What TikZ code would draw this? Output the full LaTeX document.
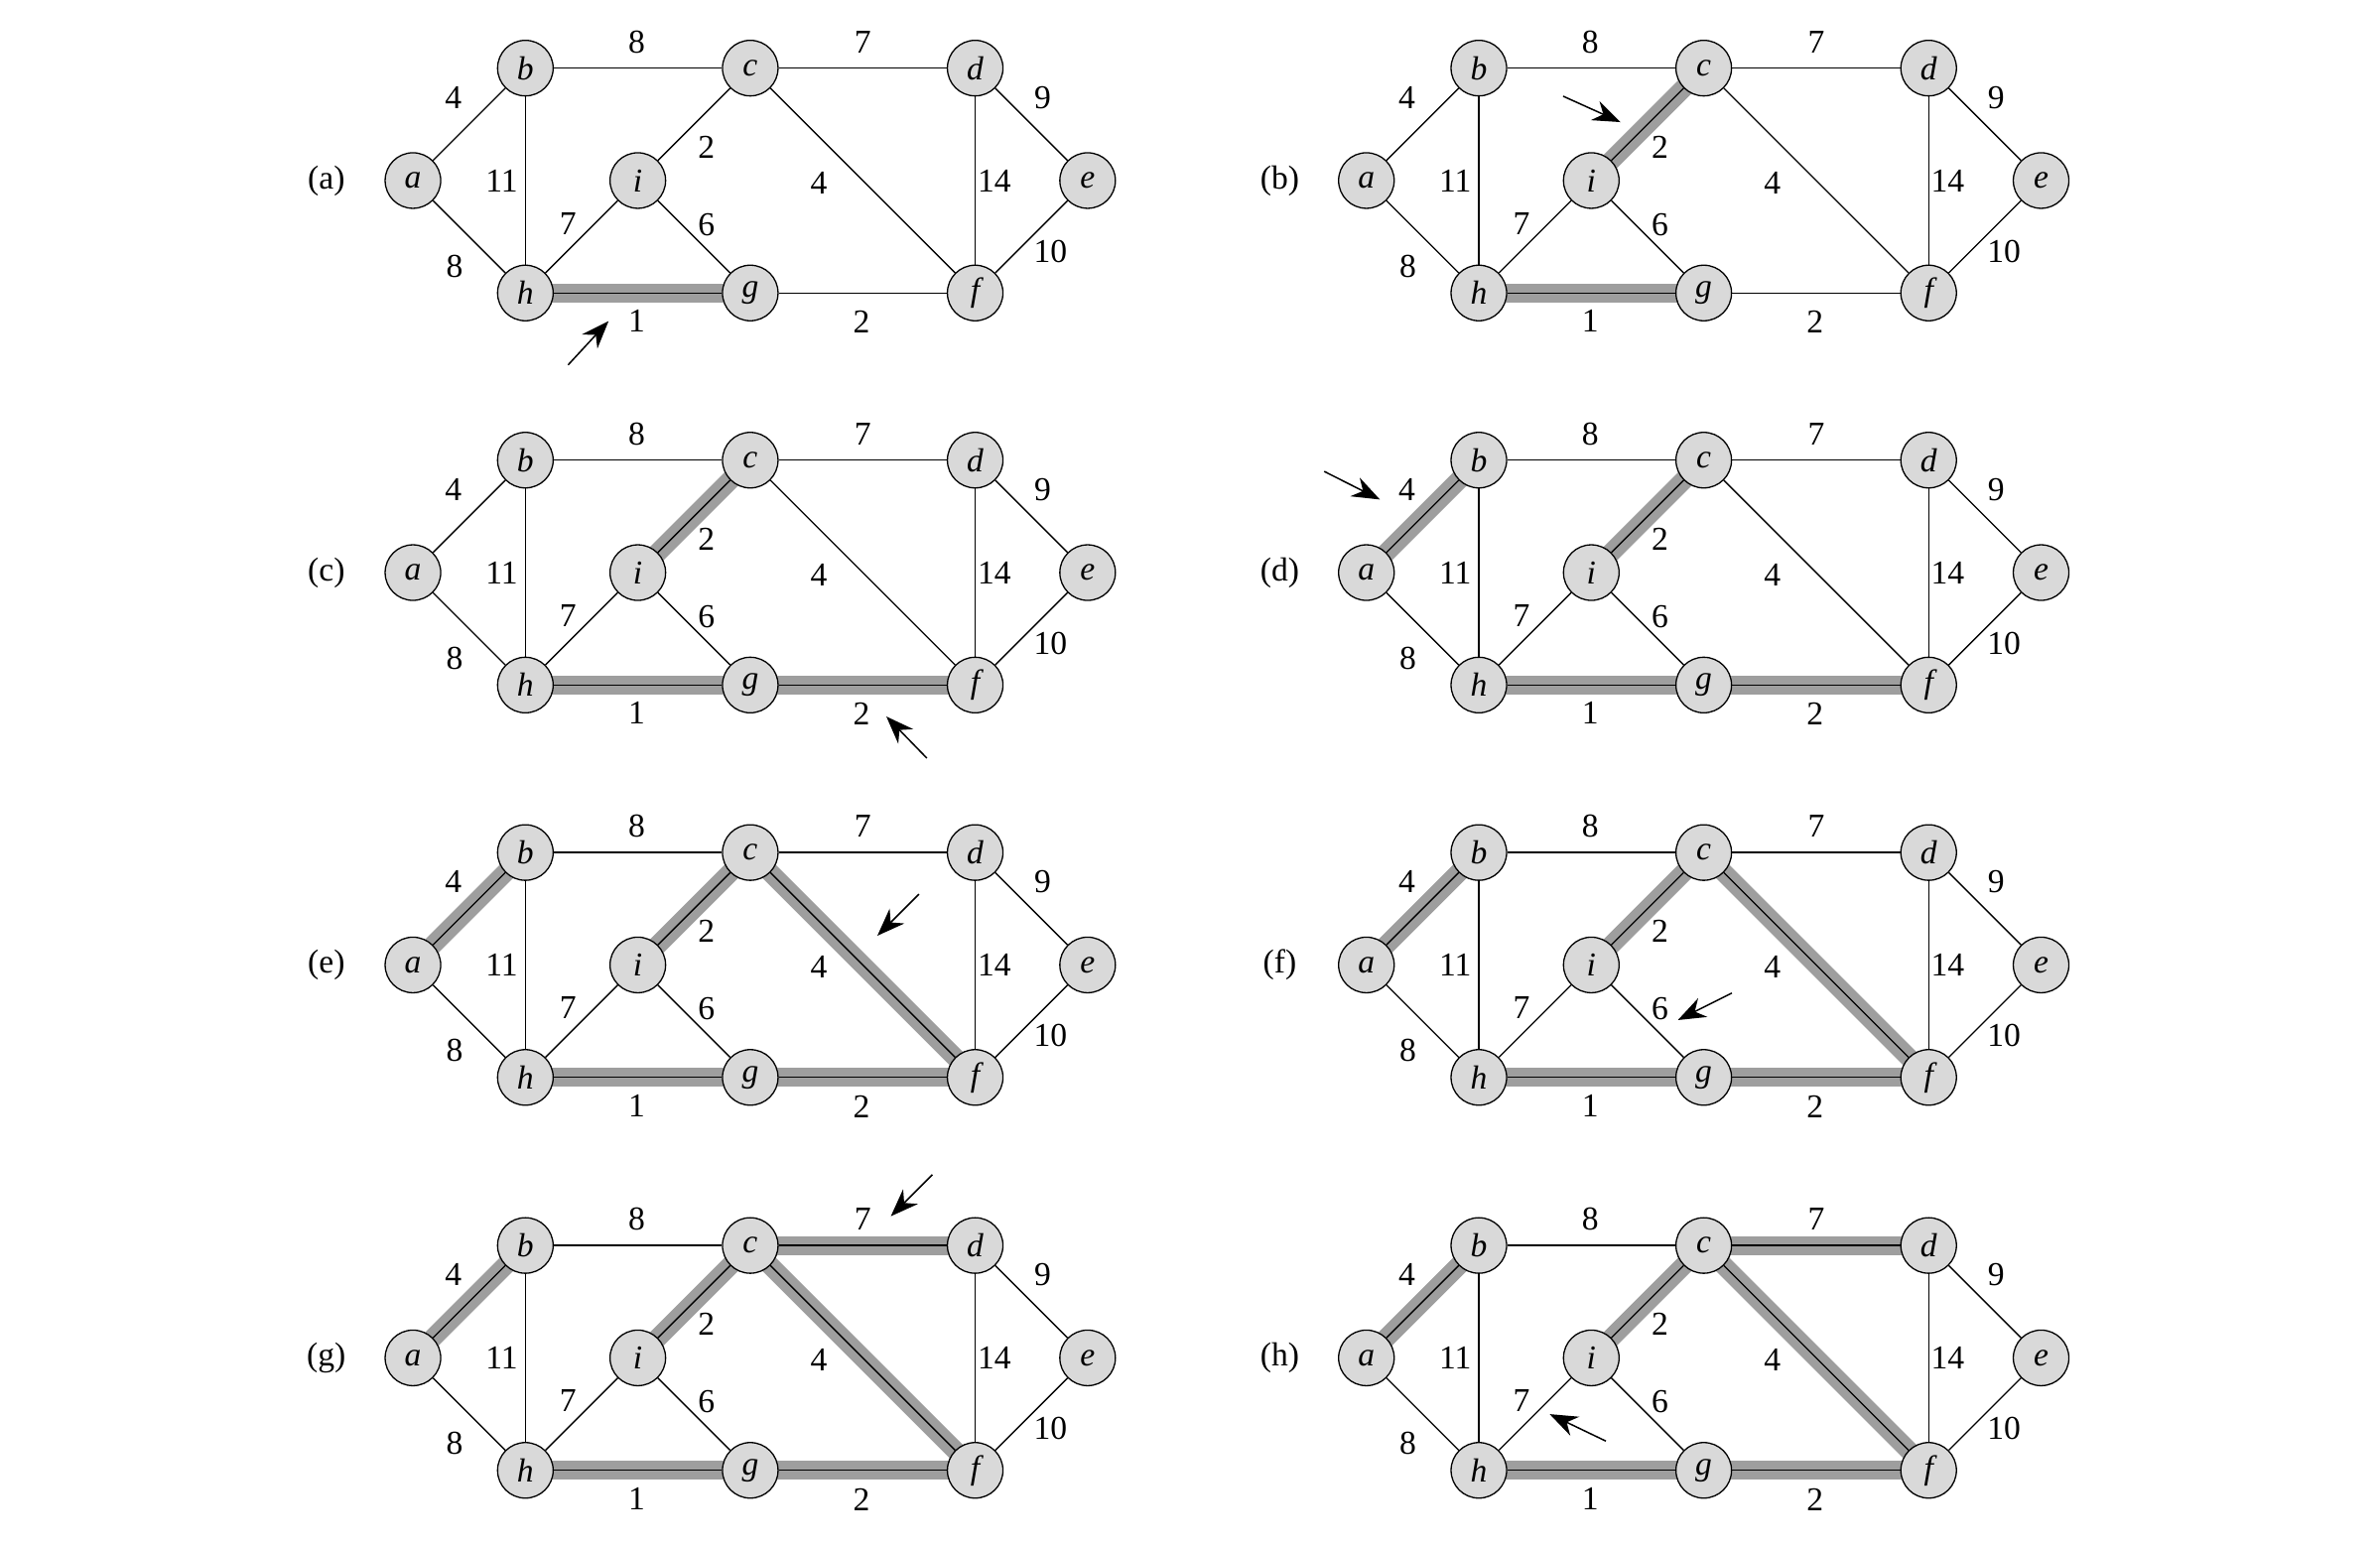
\documentclass[tikz,border=0pt]{standalone}
\usepackage{fontspec}
\setmainfont{Liberation Serif}
\usetikzlibrary{arrows.meta}
\pgfdeclarelayer{background}
\pgfsetlayers{background,main}
\definecolor{vfill}{RGB}{217,217,217}
\definecolor{bandgray}{RGB}{158,158,158}
\tikzset{
  vtx/.style={circle,draw,line width=0.65pt,fill=vfill,minimum size=28pt,inner sep=0pt,font=\fontsize{16.8pt}{20pt}\selectfont\itshape},
  wlab/.style={inner sep=0pt,font=\fontsize{16.8pt}{20pt}\selectfont},
  plabel/.style={inner sep=0pt,font=\fontsize{16.8pt}{20pt}\selectfont},
  edge/.style={line width=0.68pt},
  band/.style={line width=9.5pt,bandgray,line cap=butt},
  ptr/.style={line width=0.75pt,-{Stealth[length=14pt,width=10.5pt,inset=4.5pt]}}
}
\newcommand\kpanel[6]{%
\begin{scope}[shift={(#1,#2)},name prefix=p#3-]
  \node[vtx] (a) at (0,0) {a};
  \node[vtx] (b) at (1,1) {b};
  \node[vtx] (c) at (3,1) {c};
  \node[vtx] (d) at (5,1) {d};
  \node[vtx] (e) at (6,0) {e};
  \node[vtx] (f) at (5,-1) {f};
  \node[vtx] (g) at (3,-1) {g};
  \node[vtx] (h) at (1,-1) {h};
  \node[vtx] (i) at (2,0) {i};
  \node[plabel] (lab) at (-0.77,0) {(#3)};
  \begin{pgfonlayer}{background}
    \foreach \pA/\pB in {#4} {\draw[band] (\pA.center) -- (\pB.center);}
    \foreach \pA/\pB in {a/b,a/h,b/c,b/h,c/d,c/i,c/f,d/e,d/f,e/f,f/g,g/h,g/i,h/i}
      {\draw[edge] (\pA) -- (\pB);}
  \end{pgfonlayer}
  \node[wlab] (w1) at (1.99,1.235) {8};
  \node[wlab] (w2) at (4.0,1.235) {7};
  \node[wlab] (w3) at (0.36,0.74) {4};
  \node[wlab] (w4) at (5.6,0.74) {9};
  \node[wlab] (w5) at (0.79,0) {11};
  \node[wlab] (w6) at (2.61,0.30) {2};
  \node[wlab] (w7) at (3.61,-0.02) {4};
  \node[wlab] (w8) at (5.17,0) {14};
  \node[wlab] (w9) at (1.38,-0.38) {7};
  \node[wlab] (w10) at (2.61,-0.39) {6};
  \node[wlab] (w11) at (0.37,-0.76) {8};
  \node[wlab] (w12) at (5.67,-0.63) {10};
  \node[wlab] (w13) at (1.99,-1.25) {1};
  \node[wlab] (w14) at (3.99,-1.26) {2};
  \coordinate (arrtail) at #5;
  \coordinate (arrtip) at #6;
  \draw[ptr] (arrtail) -- (arrtip);
\end{scope}}
\begin{document}
\begin{tikzpicture}[x=56.65pt,y=56.65pt]
\useasboundingbox (0,0) rectangle (21.165,-13.751);
\kpanel{3.672}{-1.606}{a}{h/g}{(1.38,-1.64)}{(1.74,-1.25)}
\kpanel{12.151}{-1.606}{b}{h/g,i/c}{(1.75,0.75)}{(2.26,0.52)}
\kpanel{3.672}{-5.093}{c}{h/g,i/c,g/f}{(4.57,-1.65)}{(4.21,-1.28)}
\kpanel{12.151}{-5.093}{d}{h/g,i/c,g/f,a/b}{(-0.375,0.9)}{(0.12,0.65)}
\kpanel{3.672}{-8.583}{e}{h/g,i/c,g/f,a/b,c/f}{(4.50,0.63)}{(4.13,0.26)}
\kpanel{12.151}{-8.583}{f}{h/g,i/c,g/f,a/b,c/f}{(3.25,-0.25)}{(2.77,-0.49)}
\kpanel{3.672}{-12.078}{g}{h/g,i/c,g/f,a/b,c/f,c/d}{(4.62,1.63)}{(4.25,1.26)}
\kpanel{12.151}{-12.078}{h}{h/g,i/c,g/f,a/b,c/f,c/d}{(2.13,-0.74)}{(1.63,-0.50)}
\end{tikzpicture}
\end{document}
